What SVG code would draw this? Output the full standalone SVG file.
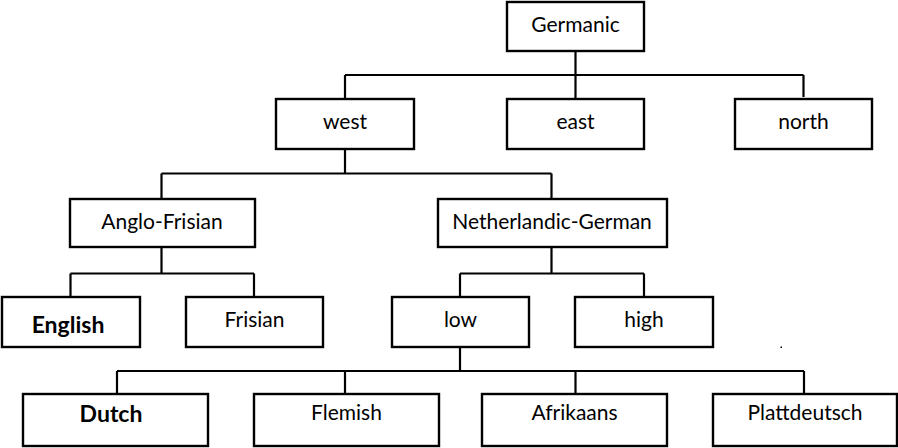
<svg xmlns="http://www.w3.org/2000/svg" width="898" height="448" viewBox="0 0 898 448">
<style>
  .box { fill: #ffffff; stroke: #000000; stroke-width: 2.4; }
  .lbl { font-family: Lato, "Open Sans", "Liberation Sans", sans-serif; font-size: 21px; fill: #000000; text-anchor: middle; }
  .bold { font-weight: bold; font-size: 23px; }
  .conn { fill: none; stroke: #000000; stroke-width: 2.2; }
</style>
<rect width="898" height="448" fill="#ffffff"/>
<g id="connectors">
  <path class="conn" d="M575.5,51 V75 M345,75 H803.5 M345,75 V99 M575.5,75 V99 M803.5,75 V97"/>
  <path class="conn" d="M345,149 V173.5 M161.5,173.5 H551.5 M161.5,173.5 V199 M551.5,173.5 V199"/>
  <path class="conn" d="M161.5,247 V273.5 M70.5,273.5 H254 M70.5,273.5 V297 M254,273.5 V297"/>
  <path class="conn" d="M551.5,247 V273.5 M460,273.5 H644 M460,273.5 V297 M644,273.5 V297"/>
  <path class="conn" d="M460,347 V371 M117,371 H804 M117,371 V394 M345,371 V394 M575.5,371 V394 M804,371 V394"/>
</g>
<g id="n-germanic"><rect class="box" x="507" y="2" width="137" height="49"/><text class="lbl" x="575.5" y="32">Germanic</text></g>
<g id="n-west"><rect class="box" x="276" y="99" width="138" height="50"/><text class="lbl" x="345" y="129">west</text></g>
<g id="n-east"><rect class="box" x="507" y="99" width="137" height="50"/><text class="lbl" x="575.5" y="129">east</text></g>
<g id="n-north"><rect class="box" x="735" y="99" width="137" height="50"/><text class="lbl" x="803.5" y="129">north</text></g>
<g id="n-anglofrisian"><rect class="box" x="70" y="199" width="185" height="48"/><text class="lbl" x="162" y="229">Anglo-Frisian</text></g>
<g id="n-netherlandic"><rect class="box" x="438" y="199" width="229" height="48"/><text class="lbl" x="552" y="229">Netherlandic-German</text></g>
<g id="n-english"><rect class="box" x="2" y="297" width="138" height="50"/><text class="lbl bold" x="68" y="333">English</text></g>
<g id="n-frisian"><rect class="box" x="186" y="297" width="137" height="50"/><text class="lbl" x="254.5" y="327">Frisian</text></g>
<g id="n-low"><rect class="box" x="392" y="297" width="137" height="50"/><text class="lbl" x="460.5" y="327">low</text></g>
<g id="n-high"><rect class="box" x="575" y="297" width="138" height="50"/><text class="lbl" x="644" y="327">high</text></g>
<rect x="780.5" y="346.5" width="1.5" height="1.5" fill="#000000"/>
<g id="n-dutch"><rect class="box" x="23" y="394" width="185" height="52"/><text class="lbl bold" x="111" y="422">Dutch</text></g>
<g id="n-flemish"><rect class="box" x="254" y="394" width="185" height="52"/><text class="lbl" x="346.5" y="419.5">Flemish</text></g>
<g id="n-afrikaans"><rect class="box" x="482" y="394" width="185" height="52"/><text class="lbl" x="574.5" y="419.5">Afrikaans</text></g>
<g id="n-plattdeutsch"><rect class="box" x="713" y="394" width="184" height="52"/><text class="lbl" x="805" y="419.5">Plattdeutsch</text></g>
</svg>
